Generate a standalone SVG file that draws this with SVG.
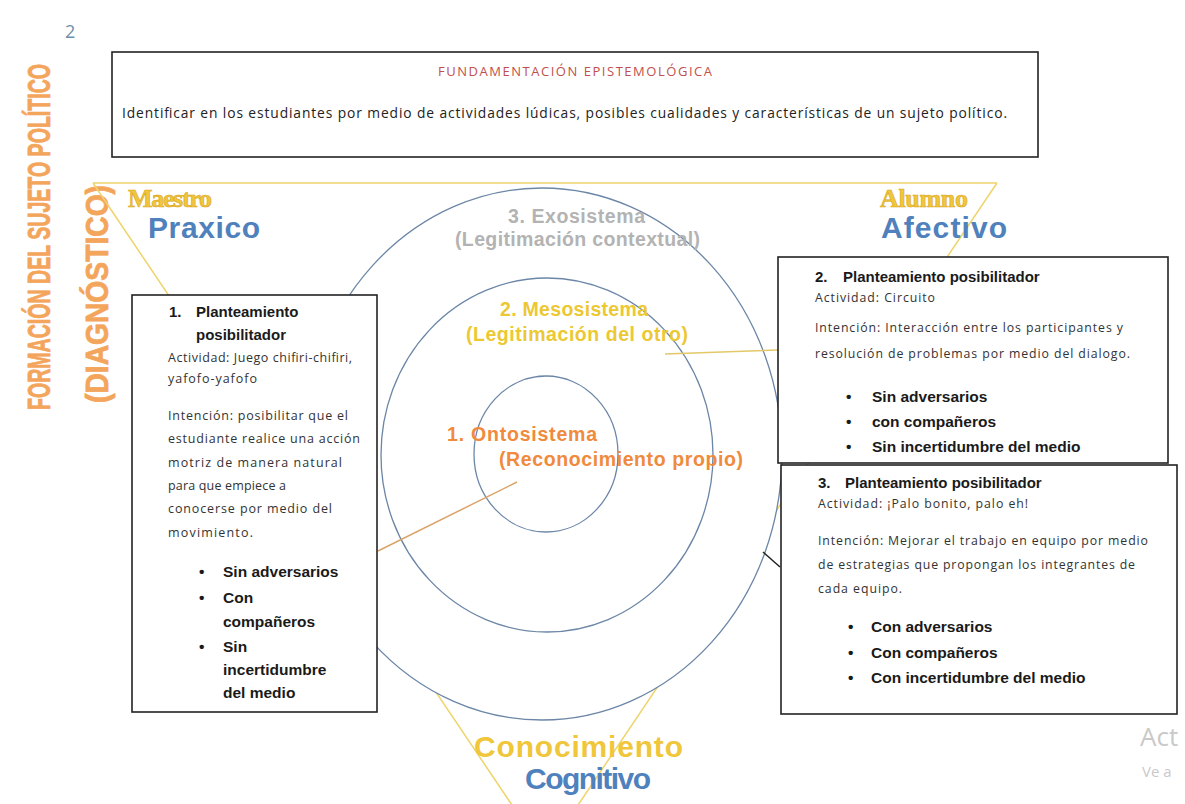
<svg xmlns="http://www.w3.org/2000/svg" width="1185" height="804" viewBox="0 0 1185 804">
<style>
.box{fill:#fff;stroke:#222;stroke-width:1.6}
.ring{fill:#fff;stroke:#6b86a6;stroke-width:1.3}
.tri{fill:none;stroke:#efd36a;stroke-width:1.5}
.h{font-family:"Liberation Sans",Arial,sans-serif;font-weight:bold;font-size:15px;fill:#1a1a1a}
.b{font-family:"Open Sans","Liberation Sans",sans-serif;font-size:12.5px;fill:#333}
.s{font-size:12.3px}
.bl{font-family:"Liberation Sans",Arial,sans-serif;font-weight:bold;font-size:15.5px;fill:#1a1a1a}
.ring-t{font-family:"Liberation Sans",Arial,sans-serif;font-weight:bold;font-size:19.5px}
.yel{fill:#f0c63a}
.blu{fill:#4f81bd}
.ser{font-family:"Liberation Serif","Times New Roman",serif;font-weight:bold}
.sans{font-family:"Liberation Sans",Arial,sans-serif;font-weight:bold}
.vert{font-family:"Liberation Sans",Arial,sans-serif;font-weight:bold;font-size:31px;fill:#f4a55c;stroke:#f4a55c;stroke-width:0.8}
</style>

<text x="65" y="38" font-family="'Open Sans','Liberation Sans',sans-serif" font-size="18" fill="#6d8fae">2</text>

<g id="header">
<rect class="box" x="112" y="52" width="926" height="105"/>
<text x="438" y="76" font-family="'Open Sans','Liberation Sans',sans-serif" font-size="13" fill="#c0504d" textLength="274">FUNDAMENTACIÓN EPISTEMOLÓGICA</text>
<text x="122" y="118" font-family="'Open Sans','Liberation Sans',sans-serif" font-size="13.8" fill="#222" textLength="885">Identificar en los estudiantes por medio de actividades lúdicas, posibles cualidades y características de un sujeto político.</text>
</g>

<g id="vertical-title">
<text class="vert" transform="translate(50,410) rotate(-90)" textLength="346" lengthAdjust="spacingAndGlyphs">FORMACIÓN DEL SUJETO POLÍTICO</text>
<text class="vert" transform="translate(108,403) rotate(-90)" textLength="218" lengthAdjust="spacingAndGlyphs">(DIAGNÓSTICO)</text>
</g>

<g id="triangle">
<polyline class="tri" points="93,183 997,183"/>
<line class="tri" x1="93" y1="183" x2="545" y2="854"/>
<line class="tri" x1="997" y1="183" x2="545" y2="854"/>
</g>

<g id="exosistema">
<ellipse class="ring" cx="542" cy="454" rx="240" ry="266"/>
<text class="ring-t" x="508" y="223" fill="#b3b3b3" textLength="137">3. Exosistema</text>
<text class="ring-t" x="455" y="246" fill="#b3b3b3" textLength="245">(Legitimación contextual)</text>
</g>
<g id="mesosistema">
<ellipse class="ring" cx="547" cy="455" rx="166" ry="177"/>
<text class="ring-t" x="500" y="316" fill="#ecc832" textLength="148">2. Mesosistema</text>
<text class="ring-t" x="466" y="341" fill="#ecc832" textLength="222">(Legitimación del otro)</text>
</g>
<g id="ontosistema">
<ellipse class="ring" cx="546" cy="454" rx="72" ry="78" fill="none"/>
<text class="ring-t" x="447" y="441" fill="#f08a3c" textLength="150">1. Ontosistema</text>
<text class="ring-t" x="499" y="466" fill="#f08a3c" textLength="244">(Reconocimiento propio)</text>
</g>

<g id="connectors">
<line x1="517" y1="482" x2="378" y2="551" stroke="#d9a46a" stroke-width="1.5"/>
<line x1="665" y1="354" x2="778" y2="350" stroke="#e3c86a" stroke-width="1.5"/>
<line x1="763" y1="552" x2="780" y2="567" stroke="#222" stroke-width="1.5"/>
</g>

<g id="maestro">
<text class="ser yel" x="128" y="207" font-size="26" textLength="84" stroke="#d9a520" stroke-width="0.6">Maestro</text>
<text class="sans blu" x="148" y="238" font-size="30" textLength="112">Praxico</text>
</g>
<g id="alumno">
<text class="ser yel" x="880" y="207" font-size="26" textLength="88" stroke="#d9a520" stroke-width="0.6">Alumno</text>
<text class="sans blu" x="881" y="238" font-size="30" textLength="126">Afectivo</text>
</g>
<g id="conocimiento">
<text class="sans yel" x="474" y="757" font-size="30" textLength="209">Conocimiento</text>
<text class="sans blu" x="525" y="789" font-size="30" textLength="126">Cognitivo</text>
</g>

<g id="box1">
<rect class="box" x="132" y="295" width="245" height="417"/>
<text class="h" x="169" y="317">1.</text>
<text class="h" x="196" y="317">Planteamiento</text>
<text class="h" x="196" y="340">posibilitador</text>
<text class="b" x="168" y="362" textLength="184">Actividad: Juego chifiri-chifiri,</text>
<text class="b" x="168" y="383" textLength="89">yafofo-yafofo</text>
<text class="b" x="168" y="420" textLength="180">Intención: posibilitar que el</text>
<text class="b" x="168" y="443" textLength="192">estudiante realice una acción</text>
<text class="b" x="168" y="467" textLength="174">motriz de manera natural</text>
<text class="b" x="168" y="490" textLength="118">para que empiece a</text>
<text class="b" x="168" y="513" textLength="164">conocerse por medio del</text>
<text class="b" x="168" y="537" textLength="85">movimiento.</text>
<text class="bl" x="199" y="577">•</text><text class="bl" x="223" y="577">Sin adversarios</text>
<text class="bl" x="199" y="603">•</text><text class="bl" x="223" y="603">Con</text>
<text class="bl" x="223" y="627">compañeros</text>
<text class="bl" x="199" y="652">•</text><text class="bl" x="223" y="652">Sin</text>
<text class="bl" x="223" y="675">incertidumbre</text>
<text class="bl" x="223" y="698">del medio</text>
</g>

<g id="box2">
<rect class="box" x="778" y="257" width="390" height="206"/>
<text class="h" x="815" y="282">2.</text>
<text class="h" x="843" y="282">Planteamiento posibilitador</text>
<text class="b s" x="815" y="302" textLength="120">Actividad: Circuito</text>
<text class="b s" x="815" y="332" textLength="308">Intención: Interacción entre los participantes y</text>
<text class="b s" x="815" y="358" textLength="315">resolución de problemas por medio del dialogo.</text>
<text class="bl" x="846" y="402">•</text><text class="bl" x="872" y="402">Sin adversarios</text>
<text class="bl" x="846" y="427">•</text><text class="bl" x="872" y="427">con compañeros</text>
<text class="bl" x="846" y="452">•</text><text class="bl" x="872" y="452">Sin incertidumbre del medio</text>
</g>

<g id="box3">
<rect class="box" x="781" y="465" width="396" height="249"/>
<text class="h" x="818" y="488">3.</text>
<text class="h" x="845" y="488">Planteamiento posibilitador</text>
<text class="b s" x="818" y="508" textLength="210">Actividad: ¡Palo bonito, palo eh!</text>
<text class="b s" x="818" y="545" textLength="330">Intención: Mejorar el trabajo en equipo por medio</text>
<text class="b s" x="818" y="569" textLength="317">de estrategias que propongan los integrantes de</text>
<text class="b s" x="818" y="593" textLength="84">cada equipo.</text>
<text class="bl" x="848" y="632">•</text><text class="bl" x="871" y="632">Con adversarios</text>
<text class="bl" x="848" y="658">•</text><text class="bl" x="871" y="658">Con compañeros</text>
<text class="bl" x="848" y="683">•</text><text class="bl" x="871" y="683">Con incertidumbre del medio</text>
</g>

<g id="watermark">
<text x="1140" y="746" font-family="'Open Sans','Liberation Sans',sans-serif" font-size="26" fill="#c9c9c9">Act</text>
<text x="1142" y="777" font-family="'Open Sans','Liberation Sans',sans-serif" font-size="15" fill="#c9c9c9">Ve a</text>
</g>
</svg>
